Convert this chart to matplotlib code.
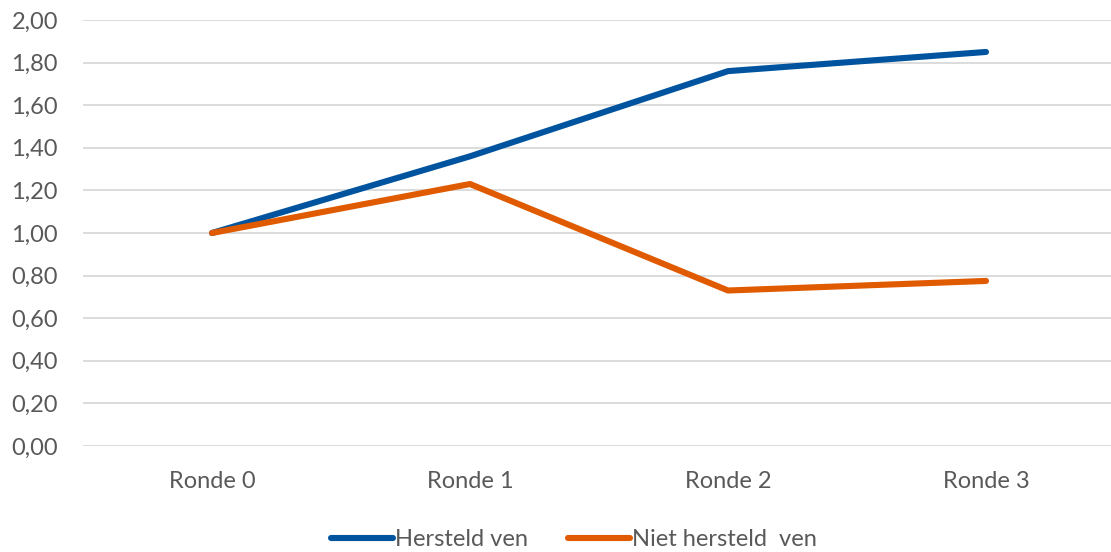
import matplotlib
matplotlib.use('Agg')
from matplotlib import pyplot
from matplotlib.ticker import FuncFormatter

rondes = ['Ronde 0', 'Ronde 1', 'Ronde 2', 'Ronde 3']
hersteld = [1.00, 1.36, 1.76, 1.85]
niet_hersteld = [1.00, 1.23, 0.73, 0.775]
yticks = [0.0, 0.2, 0.4, 0.6, 0.8, 1.0, 1.2, 1.4, 1.6, 1.8, 2.0]

pyplot.rcParams['font.family'] = ['Lato', 'DejaVu Sans']
grey = '#595959'
fs = 17

fig = pyplot.figure(figsize=(11.11, 5.52), dpi=100)
ax = fig.add_axes([83 / 1111, 106 / 552, 1032 / 1111, 426 / 552])

x = range(len(rondes))
ax.plot(x, hersteld, color='#00549F', lw=4.4, solid_capstyle='round',
        solid_joinstyle='round', label='Hersteld ven', zorder=3)
ax.plot(x, niet_hersteld, color='#E05A00', lw=4.4, solid_capstyle='round',
        solid_joinstyle='round', label='Niet hersteld  ven', zorder=3)

ax.set_xlim(-0.5, 3.5)
ax.set_ylim(0, 2.0)
ax.set_yticks(yticks)
ax.yaxis.set_major_formatter(FuncFormatter(lambda v, p: f'{v:.2f}'.replace('.', ',')))
ax.set_xticks(list(x))
ax.set_xticklabels(rondes)
ax.grid(axis='y', color='#D9D9D9', lw=1.3)
ax.set_axisbelow(True)
for s in ax.spines.values():
    s.set_visible(False)
ax.tick_params(axis='both', length=0, labelsize=fs, colors=grey)
ax.tick_params(axis='y', pad=18)
ax.tick_params(axis='x', pad=18)

leg = ax.legend(loc='center', bbox_to_anchor=(574 / 1111, 12 / 552),
                bbox_transform=fig.transFigure, ncol=2, frameon=False,
                fontsize=fs, handlelength=2.6, handletextpad=0.1,
                columnspacing=1.7)
for t in leg.get_texts():
    t.set_color(grey)

pyplot.savefig('out.png', dpi=100)
